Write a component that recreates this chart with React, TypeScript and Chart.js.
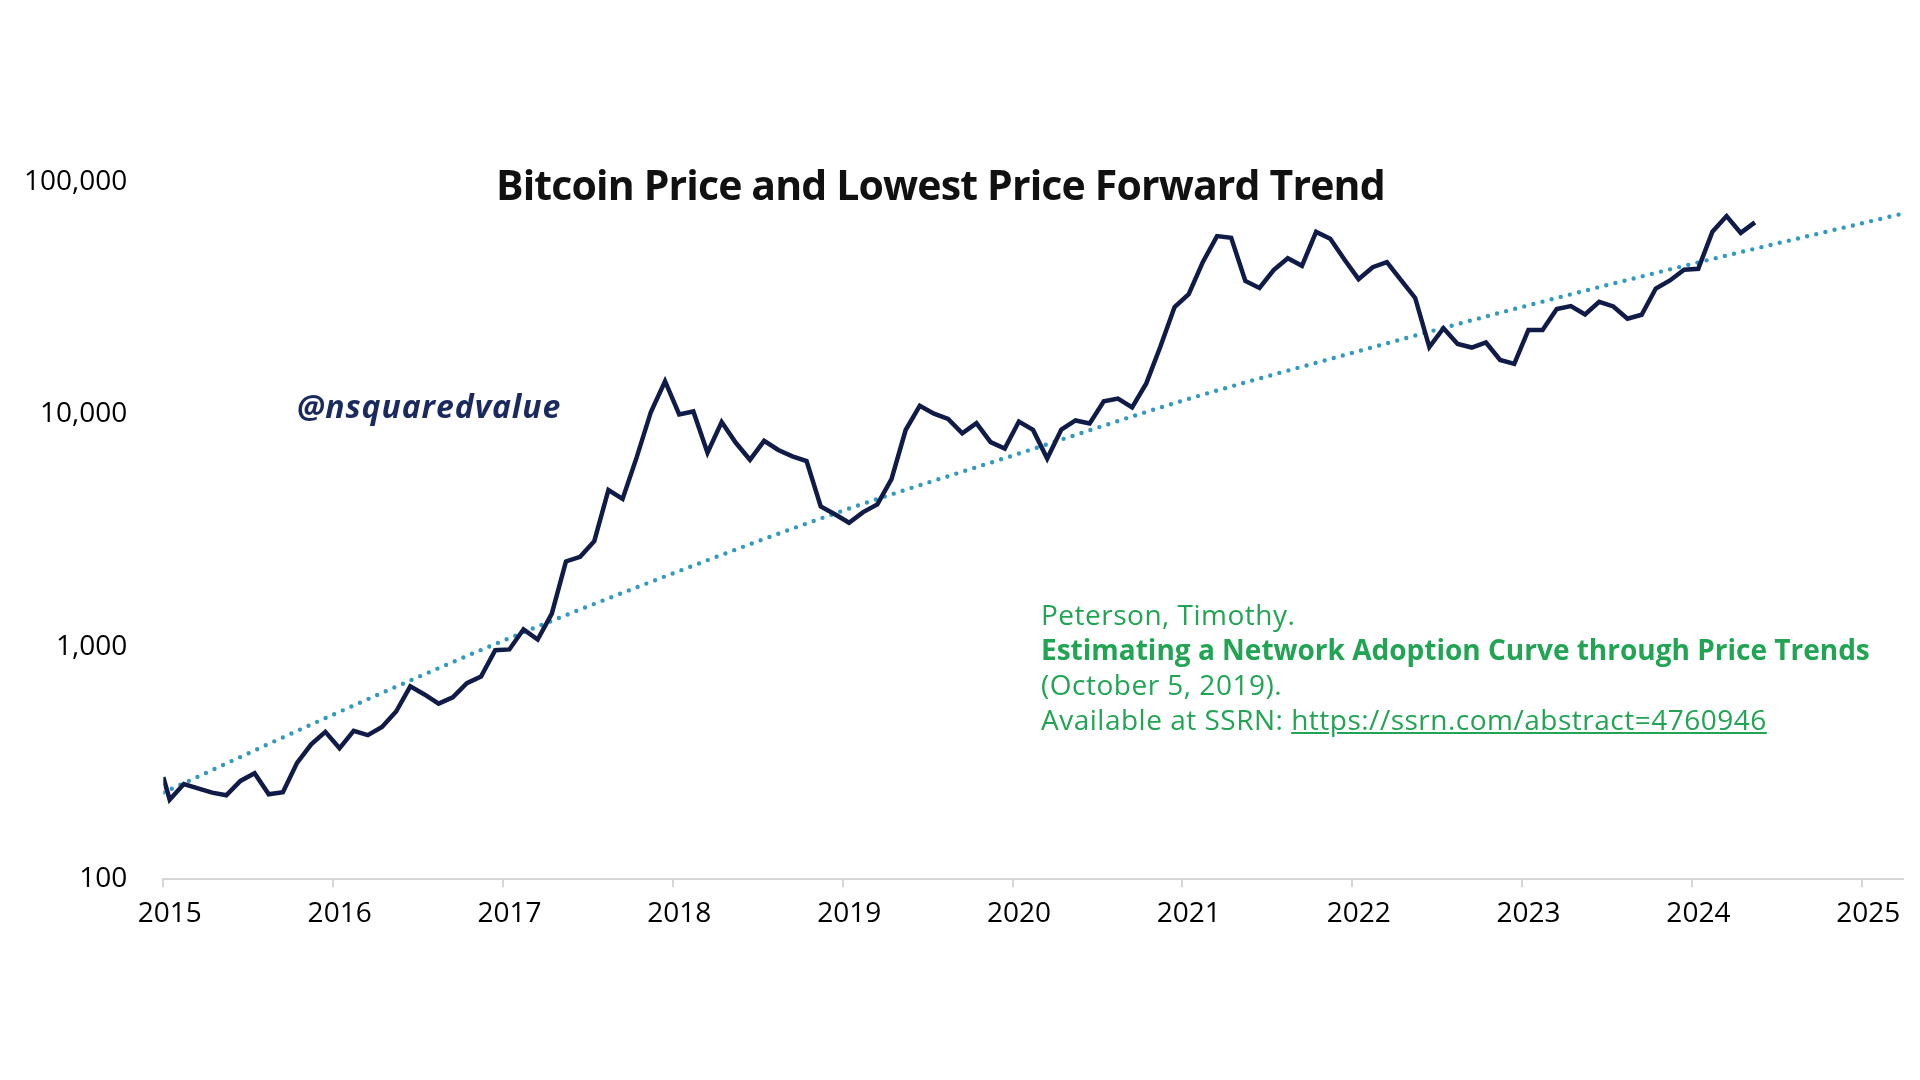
import React, { useEffect, useRef } from "react";
import { Chart, registerables } from "chart.js";

Chart.register(...registerables);

// ---- texts ----
const TITLE = "Bitcoin Price and Lowest Price Forward Trend";
const HANDLE = "@nsquaredvalue";
const CITATION_AUTHOR = "Peterson, Timothy.";
const CITATION_TITLE = "Estimating a Network Adoption Curve through Price Trends";
const CITATION_DATE = "(October 5, 2019).";
const CITATION_SOURCE = "Available at SSRN: ";
const CITATION_URL = "https://ssrn.com/abstract=4760946";

// ---- axes ----
const X_TICKS = [2015, 2016, 2017, 2018, 2019, 2020, 2021, 2022, 2023, 2024, 2025];
const Y_TICKS = [100, 1000, 10000, 100000];
const X_MIN = 2015;
const X_MAX = 2025.243;

// ---- Bitcoin monthly closing prices (USD) ----
const START_YEAR = 2015;
const OPENING_PRICE = 275; // 1 Jan 2015
const PRICE_2015 = [220, 257, 246, 236, 230, 265, 286, 232, 237, 317, 381, 431];
const PRICE_2016 = [366, 435, 417, 452, 527, 676, 624, 570, 607, 698, 746, 968];
const PRICE_2017 = [975, 1190, 1076, 1390, 2330, 2440, 2850, 4730, 4330, 6550, 10250, 13900];
const PRICE_2018 = [10000, 10300, 6850, 9280, 7550, 6380, 7700, 7030, 6600, 6300, 4020, 3720];
const PRICE_2019 = [3420, 3800, 4100, 5270, 8570, 10900, 10080, 9560, 8290, 9170, 7600, 7130];
const PRICE_2020 = [9320, 8580, 6460, 8610, 9420, 9150, 11380, 11700, 10730, 13600, 19600, 29000];
const PRICE_2021 = [32900, 45300, 58500, 57500, 37500, 35000, 41800, 47000, 43600, 61000, 57000, 46400];
const PRICE_2022 = [38200, 43000, 45200, 37800, 31700, 19500, 23500, 20100, 19400, 20400, 17150, 16500];
const PRICE_2023 = [23100, 23100, 28400, 29250, 26900, 30500, 29150, 25800, 26850, 34800, 37700, 41900];
const PRICE_2024 = [42300, 61150, 71350, 60400, 67000];

const MONTHLY_CLOSES = [
  ...PRICE_2015, ...PRICE_2016, ...PRICE_2017, ...PRICE_2018, ...PRICE_2019,
  ...PRICE_2020, ...PRICE_2021, ...PRICE_2022, ...PRICE_2023, ...PRICE_2024,
];

// ---- Lowest price forward trend (read at each year) ----
const TREND_YEARS = [2015, 2016, 2017, 2018, 2019, 2020, 2021, 2022, 2023, 2024, 2025, 2025.22];
const TREND_VALUES = [236, 511, 1062, 2070, 3850, 6650, 11450, 18400, 29000, 44400, 66400, 72500];

const MID_MONTH = 0.45;

const W = 1920;
const H = 1080;
const FONT = "'Open Sans', 'Noto Sans', sans-serif";

export default function App() {
  const ref = useRef<HTMLCanvasElement | null>(null);

  useEffect(() => {
    const canvas = ref.current;
    if (!canvas) return;

    const priceData = [
      { x: START_YEAR, y: OPENING_PRICE },
      ...MONTHLY_CLOSES.map((v, i) => ({ x: START_YEAR + (i + MID_MONTH) / 12, y: v })),
    ];
    const trendData = TREND_YEARS.map((x, i) => ({ x, y: TREND_VALUES[i] }));

    const chart = new Chart(canvas, {
      type: "line",
      data: {
        datasets: [
          {
            label: "Bitcoin Price",
            data: priceData,
            borderColor: "#101b48",
            borderWidth: 4.5,
            tension: 0,
            borderJoinStyle: "miter",
            pointRadius: 0,
            fill: false,
          },
          {
            label: "Lowest Price Forward Trend",
            data: trendData,
            borderColor: "#3399bd",
            borderWidth: 4.4,
            borderDash: [0, 9.4],
            borderCapStyle: "round",
            cubicInterpolationMode: "monotone",
            pointRadius: 0,
            fill: false,
          },
        ],
      },
      options: {
        animation: false,
        responsive: false,
        events: [],
        layout: { padding: { left: 0, right: 17, top: 182, bottom: 140.7 } },
        plugins: {
          legend: { display: false },
          tooltip: { enabled: false },
          title: { display: false },
        },
        scales: {
          x: {
            type: "linear",
            min: X_MIN,
            max: X_MAX,
            afterBuildTicks: (scale: any) => {
              scale.ticks = X_TICKS.map((v) => ({ value: v }));
            },
            afterFit: (scale: any) => {
              scale.height = 60;
            },
            ticks: {
              callback: (v: any) => String(v),
              font: { family: FONT, size: 28 },
              color: "#000000",
              padding: 10,
              labelOffset: 6.5,
              maxRotation: 0,
              autoSkip: false,
            },
            grid: {
              display: true,
              drawOnChartArea: false,
              drawTicks: true,
              tickLength: 8,
              color: "#d6d6d6",
              lineWidth: 2,
            },
            border: { display: true, color: "#d6d6d6", width: 2 },
          },
          y: {
            type: "logarithmic",
            min: 100,
            max: 100000,
            afterBuildTicks: (scale: any) => {
              scale.ticks = Y_TICKS.map((v) => ({ value: v }));
            },
            afterFit: (scale: any) => {
              scale.width = 163.3;
            },
            ticks: {
              callback: (v: any) => Number(v).toLocaleString("en-US"),
              font: { family: FONT, size: 28 },
              color: "#000000",
              padding: 28,
              autoSkip: false,
            },
            grid: { display: false },
            border: { display: false },
          },
        },
      },
    } as any);

    return () => chart.destroy();
  }, []);

  return (
    <div
      style={{
        position: "fixed",
        left: 0,
        top: 0,
        width: W,
        height: H,
        background: "#ffffff",
        overflow: "hidden",
        fontFamily: FONT,
      }}
    >
      <canvas ref={ref} width={W} height={H} style={{ position: "absolute", left: 0, top: 0, width: W, height: H }} />
      <div
        style={{
          position: "absolute",
          left: 496,
          top: 164,
          fontSize: 41,
          lineHeight: "41px",
          fontWeight: 700,
          color: "#111111",
          whiteSpace: "nowrap",
          letterSpacing: "-0.85px",
        }}
      >
        {TITLE}
      </div>
      <div
        style={{
          position: "absolute",
          left: 297,
          top: 390,
          fontSize: 32,
          lineHeight: "32px",
          fontWeight: 700,
          fontStyle: "italic",
          color: "#1b2a5e",
          whiteSpace: "nowrap",
          letterSpacing: "0.9px",
        }}
      >
        {HANDLE}
      </div>
      <div
        style={{
          position: "absolute",
          left: 1041,
          top: 597,
          fontSize: 28,
          lineHeight: "35px",
          color: "#21a453",
          whiteSpace: "nowrap",
          letterSpacing: "0.5px",
        }}
      >
        <div>{CITATION_AUTHOR}</div>
        <div style={{ fontWeight: 700, letterSpacing: "0px" }}>{CITATION_TITLE}</div>
        <div>{CITATION_DATE}</div>
        <div>
          {CITATION_SOURCE}
          <span style={{ textDecoration: "underline" }}>{CITATION_URL}</span>
        </div>
      </div>
    </div>
  );
}
